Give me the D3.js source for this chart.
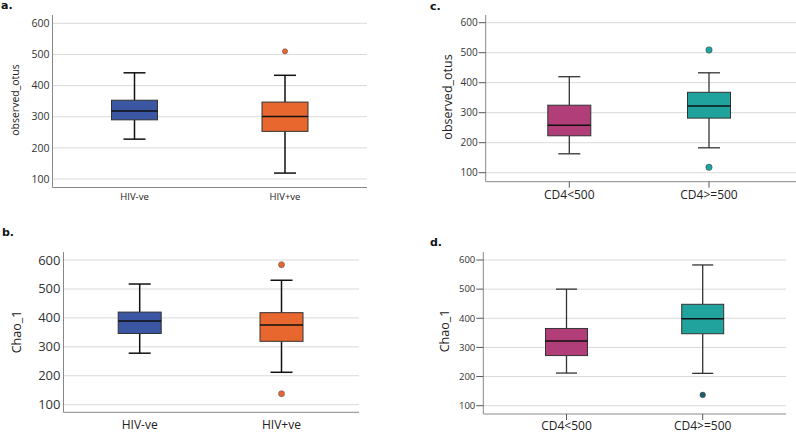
<!DOCTYPE html>
<html><head><meta charset="utf-8">
<script src="https://cdn.jsdelivr.net/npm/d3@7"></script>
<style>body{margin:0;background:#fff}svg{display:block}</style>
</head><body>
<svg id="c" width="796" height="434"></svg>
<script>
// ---- data ----
const yTicks = [100, 200, 300, 400, 500, 600];
const hivCats = ["HIV-ve", "HIV+ve"];
const cd4Cats = ["CD4<500", "CD4>=500"];
// [lowWhisker, Q1, median, Q3, highWhisker]
const obsHIV = [[228, 290, 318, 353, 441], [119, 253, 301, 347, 433]];
const obsHIVOut = [[], [510]];
const chaoHIV = [[278, 346, 389, 420, 517], [212, 319, 375, 418, 530]];
const chaoHIVOut = [[], [584, 138]];
const obsCD4 = [[163, 223, 258, 325, 420], [183, 282, 322, 368, 433]];
const obsCD4Out = [[], [509, 118]];
const chaoCD4 = [[212, 272, 322, 365, 500], [211, 347, 398, 448, 583]];
const chaoCD4Out = [[], [137]];

const hivColors = ["#3b56a3", "#e8672f"];
const cd4Colors = ["#b13e78", "#1fa39c"];

const svg = d3.select("#c");
const FONT = "'Open Sans', 'DejaVu Sans', sans-serif";

function panel(o) {
  const g = svg.append("g");
  const y = d3.scaleLinear().domain([100, 600]).range([o.y100, o.y600]);
  const x = d3.scaleBand().domain(o.cats).range([o.left, o.right]).paddingInner(0).paddingOuter(0);
  const cx = c => o.centers ? o.centers[o.cats.indexOf(c)] : x(c) + x.bandwidth() / 2;
  // grid
  g.selectAll(".grid").data(yTicks).join("line")
    .attr("x1", o.left).attr("x2", o.right)
    .attr("y1", d => y(d)).attr("y2", d => y(d))
    .attr("stroke", "#d9d9d9").attr("stroke-width", 1);
  // axes
  g.append("line").attr("x1", o.left).attr("x2", o.left).attr("y1", o.top).attr("y2", o.bottom)
    .attr("stroke", "#888").attr("stroke-width", 1);
  g.append("line").attr("x1", o.left).attr("x2", o.right).attr("y1", o.bottom).attr("y2", o.bottom)
    .attr("stroke", "#888").attr("stroke-width", 1);
  // y tick labels
  g.selectAll(".yt").data(yTicks).join("text")
    .attr("x", o.left - (o.tick ? 8 : 3)).attr("y", d => y(d))
    .attr("dy", "0.35em").attr("text-anchor", "end")
    .attr("font-family", FONT).attr("font-size", o.tfs).attr("fill", "#333")
    .text(d => d);
  if (o.tick) {
    g.selectAll(".ytk").data(yTicks).join("line")
      .attr("x1", o.left - 7).attr("x2", o.left).attr("y1", d => y(d)).attr("y2", d => y(d))
      .attr("stroke", "#555");
    g.selectAll(".xtk").data(o.cats).join("line")
      .attr("x1", d => cx(d)).attr("x2", d => cx(d)).attr("y1", o.bottom).attr("y2", o.bottom + 6)
      .attr("stroke", "#555");
  }
  // x labels
  g.selectAll(".xl").data(o.cats).join("text")
    .attr("x", d => cx(d)).attr("y", o.xly).attr("text-anchor", "middle").attr("dy", "0.35em")
    .attr("font-family", FONT).attr("font-size", o.xfs).attr("fill", "#222")
    .text(d => d);
  // y title
  g.append("text").attr("transform", `translate(${o.tx},${o.ty}) rotate(-90)`)
    .attr("text-anchor", "middle").attr("dy", "0.35em")
    .attr("font-family", FONT).attr("font-size", o.tts).attr("fill", "#222").text(o.title);
  // panel letter
  g.append("text").attr("x", o.lx).attr("y", o.ly)
    .attr("font-family", "'DejaVu Sans', sans-serif").attr("font-weight", "bold")
    .attr("font-size", 11).attr("fill", "#111").text(o.letter);
  // boxes
  o.cats.forEach((c, i) => {
    const s = o.stats[i], xc = cx(c), bw = o.bw, cw = o.cw;
    const wc = o.wcolor;
    g.append("line").attr("x1", xc).attr("x2", xc).attr("y1", y(s[0])).attr("y2", y(s[1])).attr("stroke", wc).attr("stroke-width", o.sw);
    g.append("line").attr("x1", xc).attr("x2", xc).attr("y1", y(s[3])).attr("y2", y(s[4])).attr("stroke", wc).attr("stroke-width", o.sw);
    g.append("line").attr("x1", xc - cw / 2).attr("x2", xc + cw / 2).attr("y1", y(s[0])).attr("y2", y(s[0])).attr("stroke", wc).attr("stroke-width", o.sw);
    g.append("line").attr("x1", xc - cw / 2).attr("x2", xc + cw / 2).attr("y1", y(s[4])).attr("y2", y(s[4])).attr("stroke", wc).attr("stroke-width", o.sw);
    g.append("rect").attr("x", xc - bw / 2).attr("width", bw)
      .attr("y", y(s[3])).attr("height", y(s[1]) - y(s[3]))
      .attr("fill", o.colors[i]).attr("stroke", "#333").attr("stroke-width", 1);
    g.append("line").attr("x1", xc - bw / 2).attr("x2", xc + bw / 2).attr("y1", y(s[2])).attr("y2", y(s[2]))
      .attr("stroke", "#111").attr("stroke-width", 1.5);
    g.selectAll(null).data(o.out[i]).join("circle")
      .attr("cx", xc).attr("cy", d => y(d)).attr("r", o.r)
      .attr("fill", o.outColor ? o.outColor : o.colors[i]).attr("stroke", "#444").attr("stroke-width", 0.5);
  });
}

panel({ letter: "a.", lx: 1, ly: 9, cats: hivCats, stats: obsHIV, out: obsHIVOut, colors: hivColors,
  left: 52.5, right: 367, top: 15, bottom: 187.5, y100: 179, y600: 23.3, centers: [134.5, 285],
  bw: 46, cw: 22, sw: 1.5, wcolor: "#111", r: 2.6, tfs: 10.5, xfs: 9.5, xly: 197, tts: 10.5, tx: 15, ty: 100,
  title: "observed_otus", tick: false });
panel({ letter: "b.", lx: 2, ly: 236, cats: hivCats, stats: chaoHIV, out: chaoHIVOut, colors: hivColors,
  left: 63.5, right: 359, top: 252, bottom: 412.3, y100: 404.7, y600: 260, centers: [139.7, 281.5],
  bw: 43, cw: 22, sw: 1.5, wcolor: "#111", r: 3, tfs: 13, xfs: 12, xly: 424.5, tts: 12.5, tx: 17, ty: 332,
  title: "Chao_1", tick: false });
panel({ letter: "c.", lx: 430, ly: 10, cats: cd4Cats, stats: obsCD4, out: obsCD4Out, colors: cd4Colors,
  left: 485.7, right: 796, top: 15, bottom: 181.7, y100: 172.7, y600: 22.7, centers: [569.3, 709],
  bw: 43, cw: 22, sw: 1.3, wcolor: "#333", r: 3.2, tfs: 10, xfs: 12, xly: 195, tts: 12.5, tx: 448, ty: 97,
  title: "observed_otus", tick: true });
panel({ letter: "d.", lx: 430, ly: 246, cats: cd4Cats, stats: chaoCD4, out: chaoCD4Out, colors: cd4Colors,
  outColor: "#1f5b6b",
  left: 483.3, right: 786, top: 252, bottom: 414, y100: 405.7, y600: 260, centers: [566.5, 702.7],
  bw: 42, cw: 21, sw: 1.3, wcolor: "#333", r: 2.8, tfs: 9.5, xfs: 12, xly: 425.5, tts: 12.5, tx: 445, ty: 331,
  title: "Chao_1", tick: true });
</script>
</body></html>
